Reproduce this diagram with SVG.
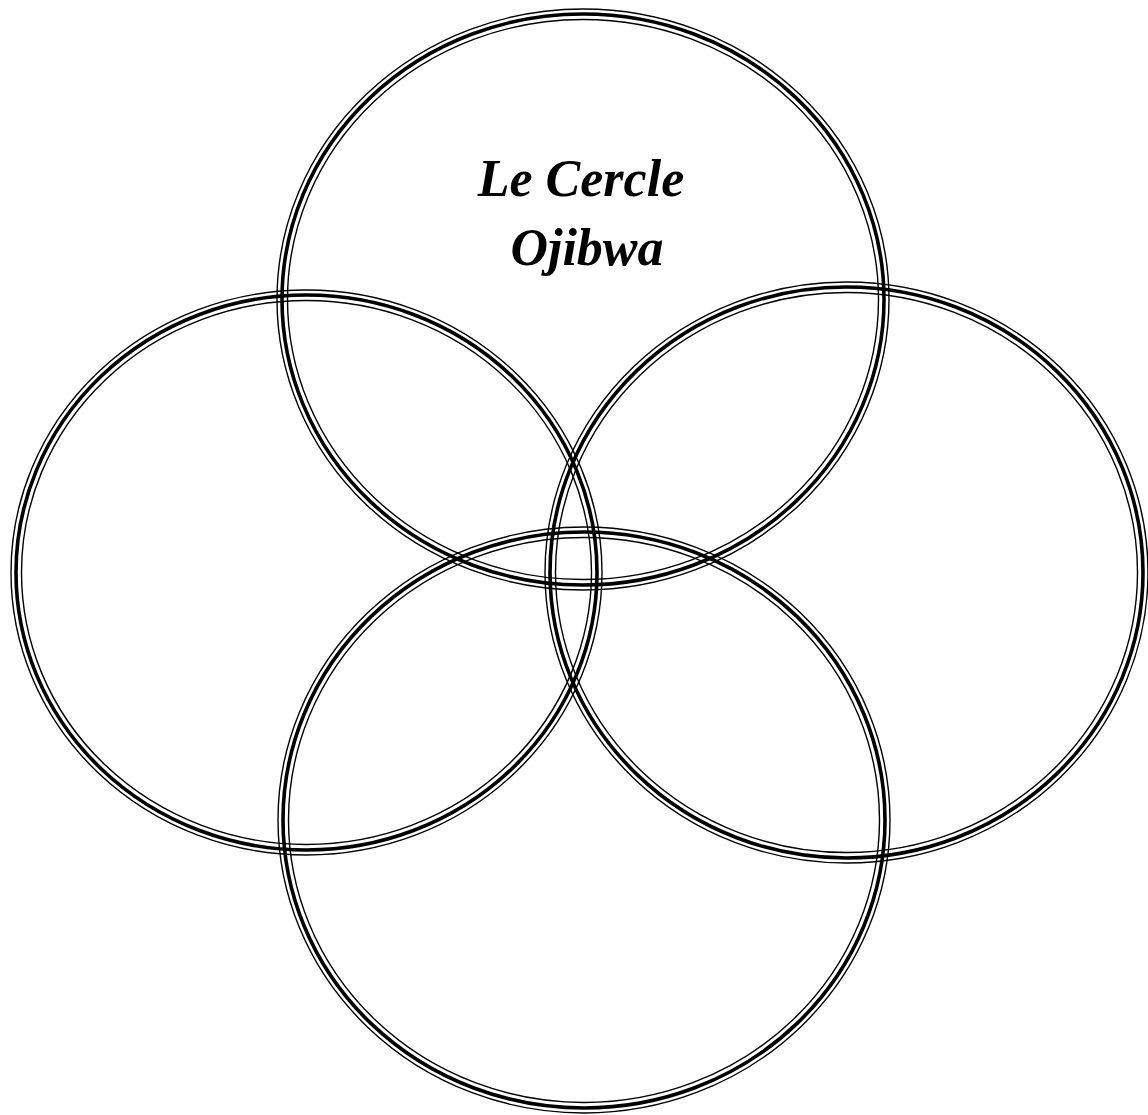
<svg xmlns="http://www.w3.org/2000/svg" width="1148" height="1115" viewBox="0 0 1148 1115">
<style>
.o{fill:none;stroke:#000;stroke-width:1.4}
.m{fill:none;stroke:#000;stroke-width:3.6}
.t{font-family:"Liberation Serif","DejaVu Serif",serif;font-style:italic;font-weight:bold;font-size:52px;fill:#000;text-anchor:middle}
</style>
<rect width="1148" height="1115" fill="#fff"/>
<g id="circle-top">
<ellipse class="o" cx="583" cy="299.5" rx="306" ry="290.5"/>
<ellipse class="m" cx="583" cy="299.5" rx="301" ry="285.5"/>
<ellipse class="o" cx="583" cy="299.5" rx="295.5" ry="280"/>
</g>
<g id="circle-left">
<ellipse class="o" cx="306.5" cy="572.5" rx="295.5" ry="282.5"/>
<ellipse class="m" cx="306.5" cy="572.5" rx="290.5" ry="277.5"/>
<ellipse class="o" cx="306.5" cy="572.5" rx="285" ry="272"/>
</g>
<g id="circle-right">
<ellipse class="o" cx="846.5" cy="572.5" rx="301.5" ry="290.5"/>
<ellipse class="m" cx="846.5" cy="572.5" rx="296.5" ry="285.5"/>
<ellipse class="o" cx="846.5" cy="572.5" rx="291" ry="280"/>
</g>
<g id="circle-bottom">
<ellipse class="o" cx="584" cy="820" rx="306" ry="293"/>
<ellipse class="m" cx="584" cy="820" rx="301" ry="288"/>
<ellipse class="o" cx="584" cy="820" rx="295.5" ry="282.5"/>
</g>
<g id="title">
<text class="t" x="581" y="196">Le Cercle</text>
<text class="t" x="587" y="265">Ojibwa</text>
</g>
</svg>
